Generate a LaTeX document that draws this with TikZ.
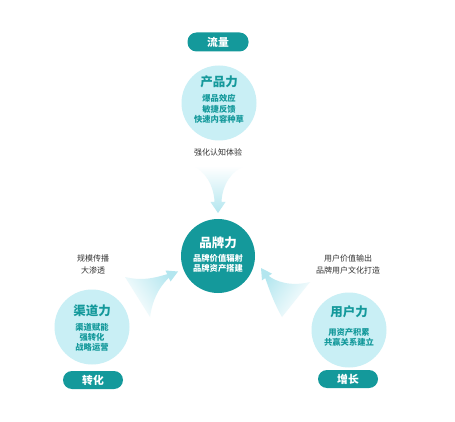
\documentclass[tikz,border=0pt]{standalone}
\usepackage{fontspec}
\setmainfont{Noto Sans CJK SC}
\definecolor{teal1}{HTML}{14999B}
\definecolor{lightc}{HTML}{C9EFF5}
\definecolor{arrowc}{HTML}{B3E6EF}
\definecolor{txtc}{HTML}{333333}
\tikzset{
  bigc/.style={circle, fill=lightc, minimum size=75pt, inner sep=0pt},
  mainc/.style={circle, fill=teal1, minimum size=74pt, inner sep=0pt},
  ttl/.style={font=\fontsize{12.5}{14}\selectfont\bfseries, text=teal1, inner sep=0pt},
  sub/.style={font=\fontsize{8.3}{10.3}\selectfont\bfseries, text=teal1, align=center, inner sep=0pt},
  pill/.style={rounded corners=9pt, fill=teal1, minimum width=61pt, minimum height=19pt, inner sep=0pt, text=white, font=\fontsize{10.8}{12}\selectfont\bfseries},
  lbl/.style={font=\fontsize{8}{12.5}\selectfont, text=txtc, align=center, inner sep=0pt},
}
\begin{document}
\begin{tikzpicture}[x=1pt,y=-1pt]
\useasboundingbox[fill=white] (0,0) rectangle (455,422);
% arrows
\shade[top color=white, bottom color=arrowc]
  (193,166) -- (245,166) .. controls (232,170) and (222,185) .. (221.5,202)
  -- (225.5,202) -- (218,213) -- (210.5,202) -- (214.5,202)
  .. controls (214,185) and (204,170) .. (193,166) -- cycle;
\shade[bottom color=white, top color=arrowc, shading angle=-55]
  (125,277) .. controls (145,282) and (160,276) .. (167.2,274.2)
  -- (165.5,270.5) -- (178,271.5) -- (170.5,281.5) -- (168.8,277.8)
  .. controls (158,288) and (152,302) .. (150,317) -- cycle;
\shade[bottom color=white, top color=arrowc, shading angle=55]
  (310,282) .. controls (290,287) and (275,281) .. (268.7,275.9)
  -- (272,273.7) -- (261,268) -- (262,280.3) -- (265.3,278.1)
  .. controls (270,292) and (275,305) .. (282,317) -- cycle;
% top
\node[pill] (p1) at (218,42) {流量};
\node[bigc] (c1) at (219,103) {};
\node[ttl] (t1) at (219,82) {产品力};
\node[sub] (s1) at (219,109) {爆品效应\\敏捷反馈\\快速内容种草};
\node[lbl] (l1) at (218,152) {强化认知体验};
% center
\node[mainc] (c0) at (218,256) {};
\node[ttl, text=white] (t0) at (218,243) {品牌力};
\node[sub, text=white] (s0) at (218,263.5) {品牌价值辐射\\品牌资产搭建};
% left
\node[bigc] (c2) at (92,327) {};
\node[ttl] (t2) at (92,311) {渠道力};
\node[sub] (s2) at (92,337.5) {渠道赋能\\强转化\\战略运营};
\node[pill, minimum width=60pt, minimum height=18pt] (p2) at (93,380) {转化};
\node[lbl] (l2) at (93,264.5) {规模传播\\大渗透};
% right
\node[bigc] (c3) at (349,330) {};
\node[ttl] (t3) at (349,312) {用户力};
\node[sub] (s3) at (349,337.5) {用资产积累\\共赢关系建立};
\node[pill, minimum width=60pt, minimum height=18pt] (p3) at (348,379) {增长};
\node[lbl] (l3) at (348,264.5) {用户价值输出\\品牌用户文化打造};
\end{tikzpicture}
\end{document}
